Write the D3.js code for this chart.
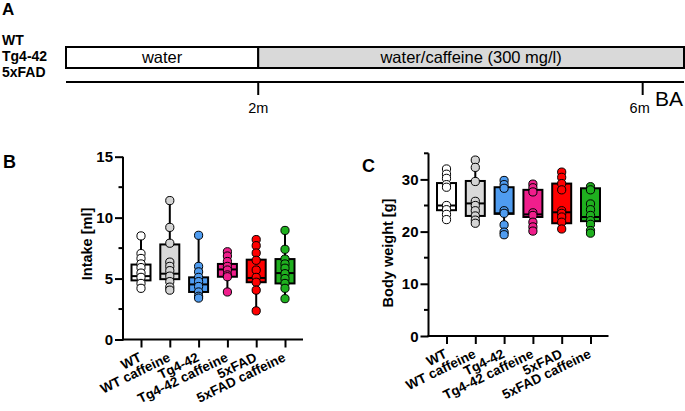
<!DOCTYPE html>
<html><head><meta charset="utf-8">
<script src="https://cdn.jsdelivr.net/npm/d3@7"></script>
<style>body{margin:0;background:#fff}svg{display:block}text{font-family:"Liberation Sans",Arial,sans-serif}</style>
</head><body><svg id="c" width="685" height="411"></svg>
<script>
// ---- Panel A data ----
const groupNames = ["WT", "Tg4-42", "5xFAD"];
const phaseLabels = ["water", "water/caffeine (300 mg/l)"];
const phaseStart = [0, 2];
const phaseEnd = [2, 6.43];
const timeTicks = [2, 6];
const timeTickLabels = ["2m", "6m"];

// ---- Panels B/C data ----
const categories = ["WT", "WT caffeine", "Tg4-42", "Tg4-42 caffeine", "5xFAD", "5xFAD caffeine"];
const colors = ["#ffffff", "#d4d4d4", "#4f9cf0", "#f01e8c", "#ff0000", "#1fb01f"];
const boxColors = ["#ffffff", "#d9d9d9", "#4f9cf0", "#f01e8c", "#ff0000", "#1fb01f"];

const intakePoints = [
  [8.5, 7.05, 6.65, 6.2, 5.9, 5.45, 5.1, 4.6, 4.2],
  [11.4, 9.2, 7.9, 6.35, 6.0, 5.65, 5.2, 4.75, 4.3, 4.05],
  [8.55, 6.0, 5.55, 5.1, 4.75, 4.35, 3.9, 3.55, 3.4],
  [7.2, 6.85, 6.4, 6.0, 5.7, 5.3, 5.15, 3.9],
  [8.2, 7.7, 7.1, 6.5, 5.7, 5.1, 4.7, 4.05, 2.35],
  [8.95, 7.4, 6.6, 6.2, 5.85, 5.4, 5.0, 4.6, 4.2, 3.35]
];
const intakeMin = [4.2, 4.05, 3.4, 3.9, 2.35, 3.35];
const intakeQ1 = [4.85, 4.95, 3.9, 5.15, 4.7, 4.6];
const intakeMed = [5.2, 5.4, 4.52, 5.75, 5.05, 5.45];
const intakeQ3 = [6.15, 7.8, 5.1, 6.2, 6.55, 6.6];
const intakeMax = [8.5, 11.4, 8.55, 7.2, 8.2, 8.95];

const weightPoints = [
  [32.0, 31.0, 30.2, 29.0, 28.5, 25.0, 24.2, 23.3, 22.3],
  [33.7, 32.3, 29.6, 25.8, 25.0, 24.0, 23.0, 22.2, 21.6],
  [29.8, 29.0, 28.3, 24.0, 23.5, 21.3, 19.9, 19.4],
  [29.1, 28.4, 27.6, 23.6, 23.1, 21.8, 20.9, 20.1],
  [31.4, 30.4, 29.2, 28.0, 24.0, 23.5, 22.8, 21.8, 20.5],
  [28.6, 28.0, 25.3, 24.2, 23.1, 22.1, 21.4, 20.2, 19.7]
];
const weightMin = [22.3, 21.6, 19.4, 20.1, 20.5, 19.7];
const weightQ1 = [24.1, 23.0, 23.4, 22.8, 21.6, 22.0];
const weightMed = [25.0, 25.4, 23.5, 23.3, 23.7, 22.8];
const weightQ3 = [29.3, 29.7, 28.5, 28.0, 29.2, 28.3];
const weightMax = [32.0, 33.7, 29.8, 29.1, 31.4, 28.6];

const intakeTicks = [0, 5, 10, 15];
const intakeMinor = [2.5, 7.5, 12.5];
const weightTicks = [0, 10, 20, 30];
const weightMinor = [5, 15, 25, 35];

const svg = d3.select("#c");
const F = '"Liberation Sans",Arial,sans-serif';

// ---------- Panel A ----------
svg.append("text").attr("x", 2).attr("y", 15).attr("font-size", 17).attr("font-weight", "bold").text("A");
const gy = [45, 61, 77];
groupNames.forEach((g, i) => svg.append("text").attr("x", 2).attr("y", gy[i]).attr("font-size", 14).attr("font-weight", "bold").text(g));

const xt = d3.scaleLinear().domain([0, 6.43]).range([66, 684]);
const phases = phaseLabels.map((l, i) => ({l, s: phaseStart[i], e: phaseEnd[i], fill: i ? "#d9d9d9" : "#fff"}));
const pg = svg.append("g");
pg.selectAll("rect").data(phases).join("rect")
  .attr("x", d => xt(d.s)).attr("y", 47).attr("width", d => xt(d.e) - xt(d.s)).attr("height", 21)
  .attr("fill", d => d.fill).attr("stroke", "#000").attr("stroke-width", 2);
pg.selectAll("text").data(phases).join("text")
  .attr("x", d => (xt(d.s) + xt(d.e)) / 2).attr("y", 63).attr("text-anchor", "middle")
  .attr("font-size", 16.5).text(d => d.l);

const tl = svg.append("g").attr("transform", "translate(0,82)");
tl.append("line").attr("x1", xt(0)).attr("x2", xt(6.43)).attr("stroke", "#000").attr("stroke-width", 2);
tl.selectAll("line.t").data(timeTicks).join("line").attr("class", "t")
  .attr("x1", d => xt(d)).attr("x2", d => xt(d)).attr("y1", 0).attr("y2", 13).attr("stroke", "#000").attr("stroke-width", 2);
tl.selectAll("text.t").data(timeTicks).join("text").attr("class", "t")
  .attr("x", (d, i) => xt(d) - (i ? 3 : 0)).attr("y", 31).attr("text-anchor", "middle").attr("font-size", 14.5)
  .text((d, i) => timeTickLabels[i]);
svg.append("text").attr("x", 655).attr("y", 106).attr("font-size", 21).text("BA");

// ---------- Box panels ----------
function panel(opt) {
  const g = svg.append("g");
  const x = d3.scalePoint().domain(categories).range([opt.x0, opt.x0 + 180]).padding(0.625);
  const y = d3.scaleLinear().domain([0, opt.ymax]).range([opt.y0, opt.ytop]);
  const bw = 19;
  // axes
  const yAx = g.append("g").attr("transform", `translate(${opt.x0},0)`)
    .call(d3.axisLeft(y).tickValues(opt.ticks).tickSize(8).tickPadding(2).tickFormat(d3.format("d")));
  yAx.selectAll("line.minor").data(opt.minor).join("line").attr("class", "minor")
    .attr("x1", -4.5).attr("x2", 0).attr("y1", d => y(d)).attr("y2", d => y(d));
  const xAx = g.append("g").attr("transform", `translate(0,${opt.y0})`)
    .call(d3.axisBottom(x).tickSize(8).tickSizeOuter(0));
  xAx.selectAll(".tick text").attr("text-anchor", "end").attr("dy", 0).attr("y", 0)
    .attr("transform", "translate(1,21) rotate(-26)");
  [yAx, xAx].forEach(a => {
    a.selectAll("path,line").attr("stroke", "#000").attr("stroke-width", 2);
    a.selectAll("text").attr("font-weight", "bold").attr("fill", "#000").attr("font-family", F);
  });
  yAx.selectAll("text").attr("font-size", 15).attr("dy", "0.34em");
  xAx.selectAll("text").attr("font-size", 13.5);
  yAx.select(".domain").attr("d", `M0,${opt.y0 + 1}V${y(opt.ymax)}`);
  xAx.select(".domain").attr("d", `M${opt.x0 - 1},0H${opt.x0 + 180}`);
  // y label
  g.append("text").attr("transform", `translate(${opt.lx},${opt.ly}) rotate(-90)`)
    .attr("text-anchor", "middle").attr("font-size", 14.5).attr("font-weight", "bold").text(opt.label);
  g.append("text").attr("x", opt.px).attr("y", opt.py).attr("font-size", 18).attr("font-weight", "bold").text(opt.panel);
  // boxes
  const data = categories.map((c, i) => ({c, i, min: opt.mn[i], q1: opt.q1[i], med: opt.md[i], q3: opt.q3[i], max: opt.mx[i], pts: opt.pts[i]}));
  const bg = g.selectAll("g.b").data(data).join("g").attr("class", "b");
  bg.append("line").attr("x1", d => x(d.c)).attr("x2", d => x(d.c)).attr("y1", d => y(d.min)).attr("y2", d => y(d.max))
    .attr("stroke", "#000").attr("stroke-width", 2);
  bg.append("rect").attr("x", d => x(d.c) - bw / 2).attr("width", bw).attr("y", d => y(d.q3)).attr("height", d => y(d.q1) - y(d.q3))
    .attr("fill", d => boxColors[d.i]).attr("stroke", "#000").attr("stroke-width", 2);
  bg.append("line").attr("x1", d => x(d.c) - bw / 2).attr("x2", d => x(d.c) + bw / 2).attr("y1", d => y(d.med)).attr("y2", d => y(d.med))
    .attr("stroke", "#000").attr("stroke-width", 2);
  bg.selectAll("circle").data(d => d.pts.map(v => ({v, d}))).join("circle")
    .attr("cx", p => x(p.d.c)).attr("cy", p => y(p.v)).attr("r", 4.1)
    .attr("fill", p => colors[p.d.i]).attr("stroke", "#000").attr("stroke-width", 1);
}

panel({x0: 123, y0: 339.5, ytop: 156.7, ymax: 15, ticks: intakeTicks, minor: intakeMinor, label: "Intake [ml]", lx: 92, ly: 244, px: 3, py: 168, panel: "B",
  pts: intakePoints, mn: intakeMin, q1: intakeQ1, md: intakeMed, q3: intakeQ3, mx: intakeMax});
panel({x0: 428.5, y0: 336, ytop: 153.3, ymax: 35, ticks: weightTicks, minor: weightMinor, label: "Body weight [g]", lx: 393, ly: 253, px: 362, py: 172, panel: "C",
  pts: weightPoints, mn: weightMin, q1: weightQ1, md: weightMed, q3: weightQ3, mx: weightMax});
</script></body></html>
